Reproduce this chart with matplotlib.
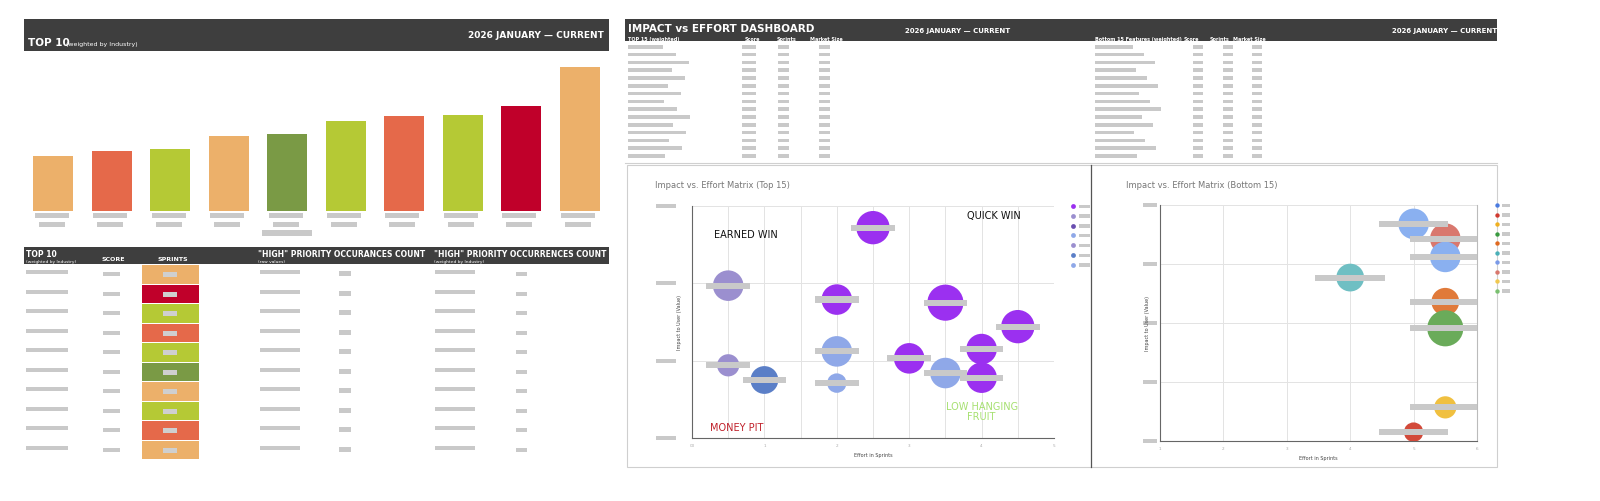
import matplotlib
matplotlib.use("Agg")
import matplotlib.pyplot as plt
from matplotlib.patches import Rectangle

# ---------------- data ----------------
top10_values = [55, 60, 62, 75, 77, 90, 95, 96, 105, 144]
top10_colors = ["#ecb06a", "#e5694a", "#b5c935", "#ecb06a", "#7a9a45",
                "#b5c935", "#e5694a", "#b5c935", "#c0002a", "#ecb06a"]
sprint_colors = ["#ecb06a", "#c0002a", "#b5c935", "#e5694a", "#b5c935",
                 "#7a9a45", "#ecb06a", "#b5c935", "#e5694a", "#ecb06a"]

top15_effort = [2.5, 0.5, 2.0, 3.5, 4.5, 2.0, 3.0, 4.0, 0.5, 1.0, 2.0, 3.5, 4.0]
top15_impact = [2.72, 1.97, 1.79, 1.75, 1.44, 1.12, 1.03, 1.15, 0.94, 0.75, 0.71, 0.84, 0.78]
top15_size = [12, 11, 11, 13, 12, 11, 11, 11, 8, 10, 7, 11, 11]
top15_color = ["#9b30f0", "#9b8fcf", "#9b30f0", "#9b30f0", "#9b30f0", "#8fa8e8",
               "#9b30f0", "#9b30f0", "#9b8fcf", "#5b7fc7", "#8fa8e8", "#8fa8e8", "#9b30f0"]
top15_legend = ["#9b30f0", "#9b8fcf", "#6a4fb0", "#8fa8e8", "#9b8fcf", "#5b7fc7", "#8fa8e8"]

bot15_effort = [4.0, 4.5, 4.5, 3.0, 4.5, 4.5, 4.5, 4.0]
bot15_impact = [3.68, 3.43, 3.12, 2.77, 2.36, 1.91, 0.57, 0.15]
bot15_size = [11, 11, 11, 10, 10, 13, 8, 7]
bot15_color = ["#8ab0f0", "#d9786e", "#8ab0f0", "#6fbfc3", "#e07a3a", "#6aab5a", "#f0c040", "#d24a3a"]
bot15_legend = ["#4a7be0", "#d03a30", "#f0b020", "#3a9a40", "#e06a20", "#4ab0b8",
                "#7a9ae8", "#d9786e", "#f0c850", "#7ac070"]

W, H = 1600, 502
fig = plt.figure(figsize=(16, 5.02), dpi=100)
bg = fig.add_axes([0, 0, 1, 1])
bg.set_xlim(0, W); bg.set_ylim(H, 0); bg.axis("off")
GRAY = "#c9c9c9"
DARK = "#3e3e3e"

def box(x, y, w, h, c=GRAY, **kw):
    bg.add_patch(Rectangle((x, y), w, h, color=c, lw=0, **kw))

def fa(x0, y0, x1, y1):
    return fig.add_axes([x0 / W, 1 - y1 / H, (x1 - x0) / W, (y1 - y0) / H])

# ---------- left header ----------
box(24, 20, 585, 32, DARK)
bg.text(28, 46, "TOP 10", color="white", fontsize=7.5, weight="bold")
bg.text(66, 46, "(weighted by Industry)", color="white", fontsize=4.5)
bg.text(604, 38, "2026 JANUARY — CURRENT", color="white", fontsize=6.5, weight="bold", ha="right")

# bar chart
axb = fa(24, 52, 609, 212)
axb.bar(range(10), top10_values, color=top10_colors, width=0.68)
axb.set_xlim(-0.5, 9.5); axb.set_ylim(0, 160); axb.axis("off")
for i in range(10):
    cx = 53 + i * 58.4
    box(cx - 18, 214, 34, 5); box(cx - 14, 223, 26, 5)
box(262, 231, 50, 6)

# table header
box(24, 248, 585, 17, DARK)
for x, t, sub in [(26, "TOP 10", "(weighted by Industry)"), (258, "\"HIGH\" PRIORITY OCCURANCES COUNT", "(raw values)"),
                  (434, "\"HIGH\" PRIORITY OCCURRENCES COUNT", "(weighted by Industry)")]:
    bg.text(x, 257, t, color="white", fontsize=5.5, weight="bold")
    bg.text(x, 263.5, sub, color="white", fontsize=3.2)
bg.text(101, 261, "SCORE", color="white", fontsize=4.5, weight="bold")
bg.text(157, 261, "SPRINTS", color="white", fontsize=4.5, weight="bold")
rh = 19.5
for i, c in enumerate(sprint_colors):
    y = 266 + i * rh
    box(142, y, 57, rh - 0.6, c)
    box(163, y + 7, 14, 5, "#cfcfcf")
    box(26, y + 5, 42, 4); box(103, y + 7, 17, 4)
    box(260, y + 5, 40, 4); box(339, y + 6, 12, 5)
    box(435, y + 5, 40, 4); box(516, y + 7, 11, 4)

# ---------- right header ----------
box(625, 20, 872, 22, DARK)
bg.text(628, 32, "IMPACT vs EFFORT DASHBOARD", color="white", fontsize=7.5, weight="bold")
bg.text(1010, 33, "2026 JANUARY — CURRENT", color="white", fontsize=5, weight="bold", ha="right")
bg.text(1497, 33, "2026 JANUARY — CURRENT", color="white", fontsize=5, weight="bold", ha="right")
for x, t in [(628, "TOP 15 (weighted)"), (745, "Score"), (777, "Sprints"), (810, "Market Size"),
             (1095, "Bottom 15 Features (weighted)"), (1184, "Score"), (1210, "Sprints"), (1233, "Market Size")]:
    bg.text(x, 41, t, color="white", fontsize=3.5, weight="bold")
for i in range(15):
    y = 46 + i * 7.8
    box(628, y, 35 + (i * 13) % 30, 3.5); box(742, y, 14, 3.5); box(778, y, 11, 3.5); box(819, y, 11, 3.5)
    box(1095, y, 38 + (i * 11) % 30, 3.5); box(1193, y, 10, 3.5); box(1223, y, 10, 3.5); box(1252, y, 10, 3.5)
bg.plot([625, 1497], [164, 164], color="#d0d0d0", lw=0.8)
bg.add_patch(Rectangle((627, 166), 870, 302, fill=False, ec="#cfcfcf", lw=0.8))
bg.plot([1091, 1091], [166, 468], color="#555", lw=0.9)

# ---------- scatter top 15 ----------
bg.text(655, 188, "Impact vs. Effort Matrix (Top 15)", color="#777", fontsize=6)
ax1 = fa(692, 207, 1054, 439)
def style(ax, xmax, ymax):
    ax.set_xlim(0, xmax); ax.set_ylim(0, ymax)
    for s in ax.spines.values(): s.set_visible(False)
    ax.spines["left"].set_visible(True); ax.spines["left"].set_color("#666")
    ax.spines["bottom"].set_visible(True); ax.spines["bottom"].set_color("#666")
    ax.grid(True, color="#e3e3e3", lw=0.7); ax.set_axisbelow(True)
    ax.tick_params(labelsize=3, colors="#aaa", length=0)
style(ax1, 5, 3)
ax1.set_xticks([0, 1, 2, 3, 4, 5]); ax1.set_xticks([0.5, 1.5, 2.5, 3.5, 4.5], minor=True)
ax1.grid(True, which="minor", axis="x", color="#e3e3e3", lw=0.7)
ax1.tick_params(which="minor", length=0)
ax1.set_yticks([0, 1, 2, 3]); ax1.set_yticklabels([]); ax1.set_xticklabels(["00", "1", "2", "3", "4", "5"])
ax1.scatter(top15_effort, top15_impact, s=[v * v * 4 for v in top15_size], c=top15_color, zorder=3, lw=0)
ax1.set_xlabel("Effort in Sprints", fontsize=3.5, color="#444")
ax1.set_ylabel("Impact to User (Value)", fontsize=3.5, color="#444")
for xe, yi in zip(top15_effort, top15_impact):
    ax1.add_patch(Rectangle((xe - 0.3, yi - 0.04), 0.6, 0.08, color=GRAY, zorder=4, lw=0))
for yv in [0, 1, 2, 3]:
    bg.add_patch(Rectangle((656, 439 - yv * 77.3 - 2), 20, 4, color=GRAY, lw=0))
ax1.text(0.3, 2.6, "EARNED WIN", fontsize=7, color="#111")
ax1.text(3.8, 2.85, "QUICK WIN", fontsize=7, color="#111")
ax1.text(0.25, 0.1, "MONEY PIT", fontsize=7, color="#c0202a")
ax1.text(4.0, 0.25, "LOW HANGING\nFRUIT", fontsize=7, color="#a6e070", ha="center", linespacing=1.0)
for i, c in enumerate(top15_legend):
    y = 207 + i * 9.8
    bg.scatter([1073], [y], s=12, color=c, lw=0)
    box(1079, y - 1.5, 11, 3.5)

# ---------- scatter bottom 15 ----------
bg.text(1126, 188, "Impact vs. Effort Matrix (Bottom 15)", color="#777", fontsize=6)
ax2 = fa(1160, 206, 1477, 442)
style(ax2, 5, 4)
ax2.set_xticks([0, 1, 2, 3, 4, 5]); ax2.set_yticks([0, 1, 2, 3, 4]); ax2.set_yticklabels([])
ax2.set_xticklabels(["1", "2", "3", "4", "5", "6"])
ax2.spines["right"].set_visible(True); ax2.spines["right"].set_color("#bbb")
ax2.scatter(bot15_effort, bot15_impact, s=[v * v * 4 for v in bot15_size], c=bot15_color, zorder=3, lw=0)
ax2.set_xlabel("Effort in Sprints", fontsize=3.5, color="#444")
ax2.set_ylabel("Impact to User (Value)", fontsize=3.5, color="#444")
for xe, yi in zip(bot15_effort, bot15_impact):
    ax2.add_patch(Rectangle((xe - 0.55, yi - 0.05), 1.1, 0.1, color=GRAY, zorder=4, lw=0))
for yv in range(5):
    bg.add_patch(Rectangle((1143, 442 - yv * 59 - 2), 14, 4, color=GRAY, lw=0))
for i, c in enumerate(bot15_legend):
    y = 206 + i * 9.5
    bg.scatter([1497], [y], s=10, color=c, lw=0)
    box(1502, y - 1.5, 8, 3.5)

fig.savefig("out.png", dpi=100)
